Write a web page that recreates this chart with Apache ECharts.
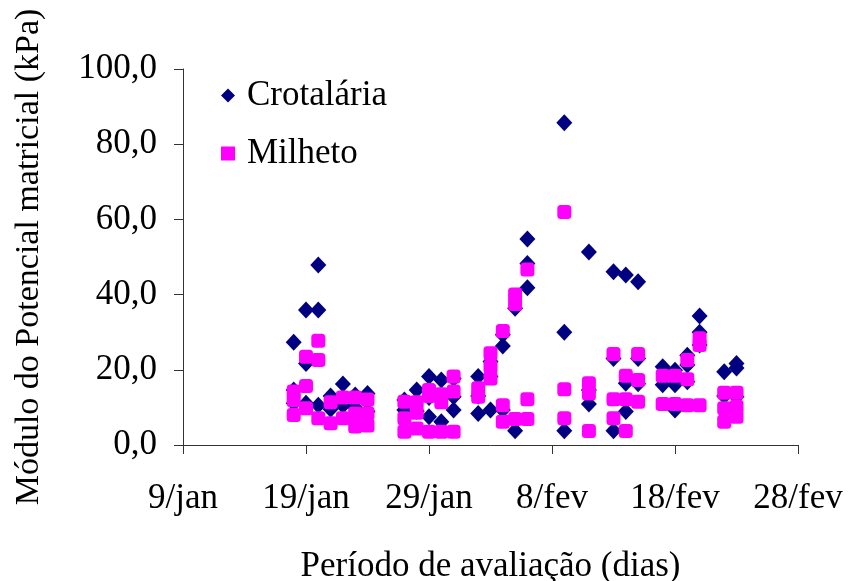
<!DOCTYPE html>
<html>
<head>
<meta charset="utf-8">
<script src="https://cdn.jsdelivr.net/npm/echarts@6/dist/echarts.min.js"></script>
<style>
html,body{margin:0;padding:0;background:#fff;}
#chart{width:848px;height:581px;}
</style>
</head>
<body>
<div id="chart"></div>
<script>
// x = days after 9/jan
var xTickLabels = ['9/jan', '19/jan', '29/jan', '8/fev', '18/fev', '28/fev'];
var yTickValues = [0, 20, 40, 60, 80, 100];

var crotDays = [
  9, 9, 9, 10, 10, 10, 11, 11, 11, 12, 12, 13, 13, 14, 14, 15, 15,
  18, 18, 19, 19, 20, 20, 20, 21, 21, 22, 22, 22,
  24, 24, 24, 25, 25, 25, 26, 26, 26, 27, 27, 28, 28, 28,
  31, 31, 31, 33, 33, 33, 35, 35, 35, 36, 36, 36, 37, 37, 37,
  39, 39, 40, 40, 40, 41, 41, 41, 42, 42, 42, 44, 44, 45, 45, 45
];
var crotValues = [
  27.3, 14.6, 11.1, 35.9, 21.7, 11.1, 47.9, 35.9, 10.6, 13.0, 9.5, 16.2, 10.5, 13.3, 10.0, 13.7, 8.9,
  12.0, 9.3, 14.6, 9.0, 18.2, 12.6, 7.5, 17.3, 6.2, 17.7, 12.8, 9.3,
  18.2, 13.0, 8.4, 22.2, 18.2, 9.3, 29.3, 26.3, 9.3, 36.4, 3.8, 54.8, 48.3, 41.8,
  85.7, 30.0, 3.8, 51.3, 14.6, 10.9, 46.1, 23.0, 3.8, 45.2, 16.4, 8.9, 43.4, 23.0, 16.3,
  20.8, 16.0, 19.9, 16.0, 9.3, 23.9, 21.3, 16.8, 34.3, 30.0, 26.6, 19.5, 13.0, 21.7, 20.5, 12.8
];

var milDays = [
  9, 9, 9, 10, 10, 10, 11, 11, 11, 12, 12, 13, 13, 14, 14, 14, 15, 15, 15,
  18, 18, 18, 19, 19, 19, 20, 20, 20, 21, 21, 21, 22, 22, 22,
  24, 24, 25, 25, 25, 26, 26, 26, 27, 27, 27, 28, 28, 28,
  31, 31, 31, 33, 33, 33, 35, 35, 35, 36, 36, 36, 37, 37, 37,
  39, 39, 40, 40, 41, 41, 41, 42, 42, 42, 44, 44, 44, 45, 45, 45
];
var milValues = [
  14.2, 12.0, 8.0, 23.5, 15.7, 9.8, 27.7, 22.6, 7.1, 11.4, 5.8, 12.6, 7.1, 12.6, 8.4, 4.9, 12.1, 8.4, 5.2,
  11.5, 7.1, 3.5, 11.4, 8.6, 4.4, 14.6, 13.0, 3.5, 13.5, 11.4, 3.5, 18.2, 14.2, 3.5,
  15.1, 12.8, 24.4, 20.8, 17.7, 30.3, 10.6, 6.2, 40.0, 37.5, 6.9, 46.7, 12.2, 6.9,
  62.0, 14.8, 7.1, 16.4, 13.7, 3.7, 24.2, 12.2, 7.1, 18.4, 12.2, 3.7, 24.2, 17.3, 11.5,
  18.4, 10.9, 18.4, 10.9, 22.6, 17.5, 10.6, 28.4, 26.6, 10.6, 13.9, 9.8, 6.2, 13.9, 10.2, 7.5
];

function pairs(xs, ys) {
  var out = [];
  for (var i = 0; i < xs.length; i++) out.push([xs[i], ys[i]]);
  return out;
}

var FONT = '"Liberation Serif", "Times New Roman", serif';
var AXIS_COLOR = '#333';

var chart = echarts.init(document.getElementById('chart'), null, {renderer: 'canvas'});
chart.setOption({
  animation: false,
  backgroundColor: '#fff',
  grid: {left: 183, right: 50, top: 69, bottom: 136, containLabel: false, outerBoundsMode: 'none'},
  legend: {
    orient: 'vertical',
    left: 216,
    top: 73,
    itemGap: 23,
    itemWidth: 14,
    itemHeight: 14,
    textStyle: {fontFamily: FONT, fontSize: 35, color: '#000', lineHeight: 35, padding: [0, 0, 0, 7]},
    data: [
      {name: 'Crotalária', icon: 'diamond'},
      {name: 'Milheto', icon: 'rect'}
    ]
  },
  xAxis: {
    type: 'value',
    min: 0,
    max: 50,
    interval: 10,
    name: 'Período de avaliação (dias)',
    nameLocation: 'middle',
    nameGap: 104,
    nameTextStyle: {fontFamily: FONT, fontSize: 35, color: '#000'},
    axisLine: {show: true, onZero: false, lineStyle: {color: AXIS_COLOR, width: 1}},
    axisTick: {show: true, inside: false, length: 9, lineStyle: {color: AXIS_COLOR}},
    splitLine: {show: false},
    axisLabel: {
      fontFamily: FONT, fontSize: 35, color: '#000', margin: 36,
      formatter: function (v) { return xTickLabels[Math.round(v / 10)]; }
    }
  },
  yAxis: {
    type: 'value',
    min: yTickValues[0],
    max: yTickValues[yTickValues.length - 1],
    interval: 20,
    name: 'Módulo do Potencial matricial (kPa)',
    nameLocation: 'middle',
    nameGap: 137,
    nameRotate: 90,
    nameTextStyle: {fontFamily: FONT, fontSize: 34, color: '#000'},
    axisLine: {show: true, lineStyle: {color: AXIS_COLOR, width: 1}},
    axisTick: {show: true, inside: false, length: 9, lineStyle: {color: AXIS_COLOR}},
    splitLine: {show: false},
    axisLabel: {
      fontFamily: FONT, fontSize: 35, color: '#000', margin: 26,
      formatter: function (v) { return v.toFixed(1).replace('.', ','); }
    }
  },
  series: [
    {
      name: 'Crotalária',
      type: 'scatter',
      symbol: 'diamond',
      symbolSize: [16, 17],
      itemStyle: {color: '#000080', opacity: 1},
      data: pairs(crotDays, crotValues)
    },
    {
      name: 'Milheto',
      type: 'scatter',
      symbol: 'roundRect',
      symbolSize: 14,
      itemStyle: {color: '#FF00FF', opacity: 1},
      data: pairs(milDays, milValues)
    }
  ]
});
</script>
</body>
</html>
